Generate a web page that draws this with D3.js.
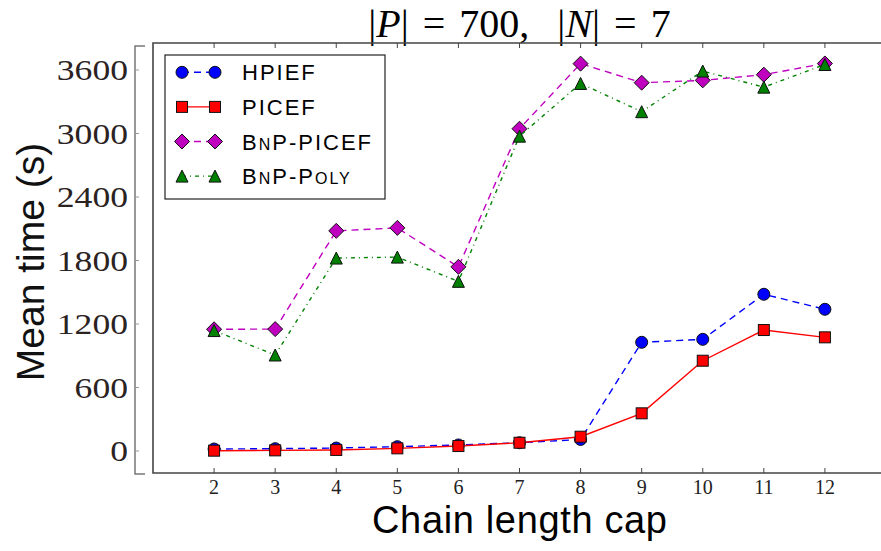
<!DOCTYPE html>
<html>
<head>
<meta charset="utf-8">
<script src="https://cdn.jsdelivr.net/npm/d3@7"></script>
<style>
  body { margin: 0; background: #fff; }
  svg { display: block; }
</style>
</head>
<body>
<div id="chart"></div>
<script>
// Chain length caps on the x axis
const caps = [2, 3, 4, 5, 6, 7, 8, 9, 10, 11, 12];

// Mean time (s) per series
const hpief    = [19, 22, 28, 41, 57, 78, 109, 1027, 1055, 1481, 1339];
const picef    = [3, 6, 10, 25, 47, 78, 135, 356, 853, 1143, 1074];
const bnpPicef = [1150, 1152, 2080, 2108, 1740, 3045, 3660, 3480, 3502, 3556, 3662];
const bnpPoly  = [1138, 907, 1823, 1832, 1603, 2975, 3473, 3206, 3590, 3438, 3652];

const yTicks = [0, 600, 1200, 1800, 2400, 3000, 3600];

const W = 881, H = 551;
const frame = {left: 153, top: 43, bottom: 473, right: 886};

const svg = d3.select("#chart").append("svg")
    .attr("width", W)
    .attr("height", H);

const x = d3.scaleLinear().domain([1, 13]).range([frame.left, frame.right]);
const y = d3.scaleLinear().domain([0, 3600]).range([451, 70]);

// series definitions
const series = [
    {name: "HPIEF", values: hpief, color: "#0000ff", dash: "7,5", marker: "circle"},
    {name: "PICEF", values: picef, color: "#ff0000", dash: null, marker: "square"},
    {name: "BnP-PICEF", values: bnpPicef, color: "#bf00bf", dash: "7,5", marker: "diamond"},
    {name: "BnP-Poly", values: bnpPoly, color: "#008000", dash: "4,4,1,4", marker: "triangle"}
];

// Title (single text run, math italics via tspans, no length forcing)
const title = svg.append("text")
    .attr("x", (frame.left + frame.right) / 2)
    .attr("y", 37)
    .attr("text-anchor", "middle")
    .style("font-family", "'Liberation Serif', 'DejaVu Serif', serif")
    .style("font-size", "40px")
    .style("word-spacing", "4px")
    .attr("xml:space", "preserve");
title.append("tspan").text("|");
title.append("tspan").style("font-style", "italic").text("P");
title.append("tspan").text("| = 700,  |");
title.append("tspan").style("font-style", "italic").text("N");
title.append("tspan").text("| = 7");

// Y axis (bracket style, sitting left of the frame)
const yAx = svg.append("g").attr("class", "y-axis");
yAx.append("path")
    .attr("d", "M145,46 H135 V474 H145")
    .attr("fill", "none")
    .attr("stroke", "#777")
    .attr("stroke-width", 1.5);
yTicks.forEach(function(t) {
    yAx.append("line")
        .attr("x1", 135).attr("x2", 139)
        .attr("y1", y(t)).attr("y2", y(t))
        .attr("stroke", "#999")
        .attr("stroke-width", 1);
    yAx.append("text")
        .attr("x", 128)
        .attr("y", y(t))
        .attr("dy", "0.36em")
        .attr("text-anchor", "end")
        .style("font-family", "'Liberation Serif', 'DejaVu Serif', serif")
        .style("font-size", "29px")
        .style("fill", "#2b2222")
        .attr("textLength", String(t).length * 17.8)
        .attr("lengthAdjust", "spacingAndGlyphs")
        .text(t);
});

// Y axis label
svg.append("text")
    .attr("transform", "translate(44,262) rotate(-90)")
    .attr("text-anchor", "middle")
    .style("font-family", "'Liberation Sans', Arial, sans-serif")
    .style("font-size", "39px")
    .style("fill", "#111")
    .text("Mean time (s)");

// Frame (left, top, bottom)
svg.append("path")
    .attr("d", `M${W},${frame.top} H${frame.left} V${frame.bottom} H${W}`)
    .attr("fill", "none")
    .attr("stroke", "#444")
    .attr("stroke-width", 1.6);

// X ticks inside, top and bottom
caps.forEach(function(c) {
    svg.append("line")
        .attr("x1", x(c)).attr("x2", x(c))
        .attr("y1", frame.bottom).attr("y2", frame.bottom - 5)
        .attr("stroke", "#444");
    svg.append("line")
        .attr("x1", x(c)).attr("x2", x(c))
        .attr("y1", frame.top).attr("y2", frame.top + 5)
        .attr("stroke", "#444");
    svg.append("text")
        .attr("x", x(c))
        .attr("y", 494)
        .attr("text-anchor", "middle")
        .style("font-family", "'Liberation Serif', 'DejaVu Serif', serif")
        .style("font-size", "20px")
        .style("fill", "#222")
        .text(c);
});

// X axis label
svg.append("text")
    .attr("x", (frame.left + frame.right) / 2)
    .attr("y", 533)
    .attr("text-anchor", "middle")
    .style("font-family", "'Liberation Sans', Arial, sans-serif")
    .style("font-size", "38px")
    .attr("textLength", 295)
    .style("fill", "#000")
    .text("Chain length cap");

// marker drawing helper
function drawMarker(g, type, cx, cy, color) {
    let m;
    if (type === "circle") {
        m = g.append("circle").attr("cx", cx).attr("cy", cy).attr("r", 6);
    } else if (type === "square") {
        m = g.append("rect").attr("x", cx - 5.5).attr("y", cy - 5.5).attr("width", 11).attr("height", 11);
    } else if (type === "diamond") {
        m = g.append("path").attr("d", `M${cx},${cy - 7.5} L${cx + 7.5},${cy} L${cx},${cy + 7.5} L${cx - 7.5},${cy} Z`);
    } else {
        m = g.append("path").attr("d", `M${cx},${cy - 6} L${cx + 6},${cy + 6} L${cx - 6},${cy + 6} Z`);
    }
    m.attr("fill", color).attr("stroke", "#111").attr("stroke-width", 1);
}

const line = d3.line()
    .x((d, i) => x(caps[i]))
    .y(d => y(d));

// lines + markers
series.forEach(function(s) {
    const g = svg.append("g").attr("class", "series");
    g.append("path")
        .datum(s.values)
        .attr("fill", "none")
        .attr("stroke", s.color)
        .attr("stroke-width", 1.4)
        .attr("stroke-dasharray", s.dash)
        .attr("d", line);
    s.values.forEach(function(v, i) {
        drawMarker(g, s.marker, x(caps[i]), y(v), s.color);
    });
});

// Legend
const legend = svg.append("g").attr("class", "legend");
legend.append("rect")
    .attr("x", 165).attr("y", 55)
    .attr("width", 220).attr("height", 144)
    .attr("fill", "#fff")
    .attr("stroke", "#222")
    .attr("stroke-width", 1.2);

// label pieces: [text, smallcaps?]
const legendLabels = [
    [["HPIEF", false]],
    [["PICEF", false]],
    [["B", false], ["N", true], ["P-PICEF", false]],
    [["B", false], ["N", true], ["P-P", false], ["OLY", true]]
];

series.forEach(function(s, i) {
    const ly = 72.3 + i * 34.6;
    legend.append("line")
        .attr("x1", 182).attr("x2", 215)
        .attr("y1", ly).attr("y2", ly)
        .attr("stroke", s.color)
        .attr("stroke-width", 1.4)
        .attr("stroke-dasharray", s.dash);
    drawMarker(legend, s.marker, 182, ly, s.color);
    drawMarker(legend, s.marker, 215, ly, s.color);
    const t = legend.append("text")
        .attr("x", 242)
        .attr("y", ly + 8)
        .style("font-family", "'Liberation Sans', Arial, sans-serif")
        .style("font-size", "22px")
        .style("letter-spacing", "2px")
        .style("fill", "#000");
    legendLabels[i].forEach(function(p) {
        t.append("tspan")
            .style("font-size", p[1] ? "16px" : "22px")
            .text(p[0]);
    });
});
</script>
</body>
</html>
